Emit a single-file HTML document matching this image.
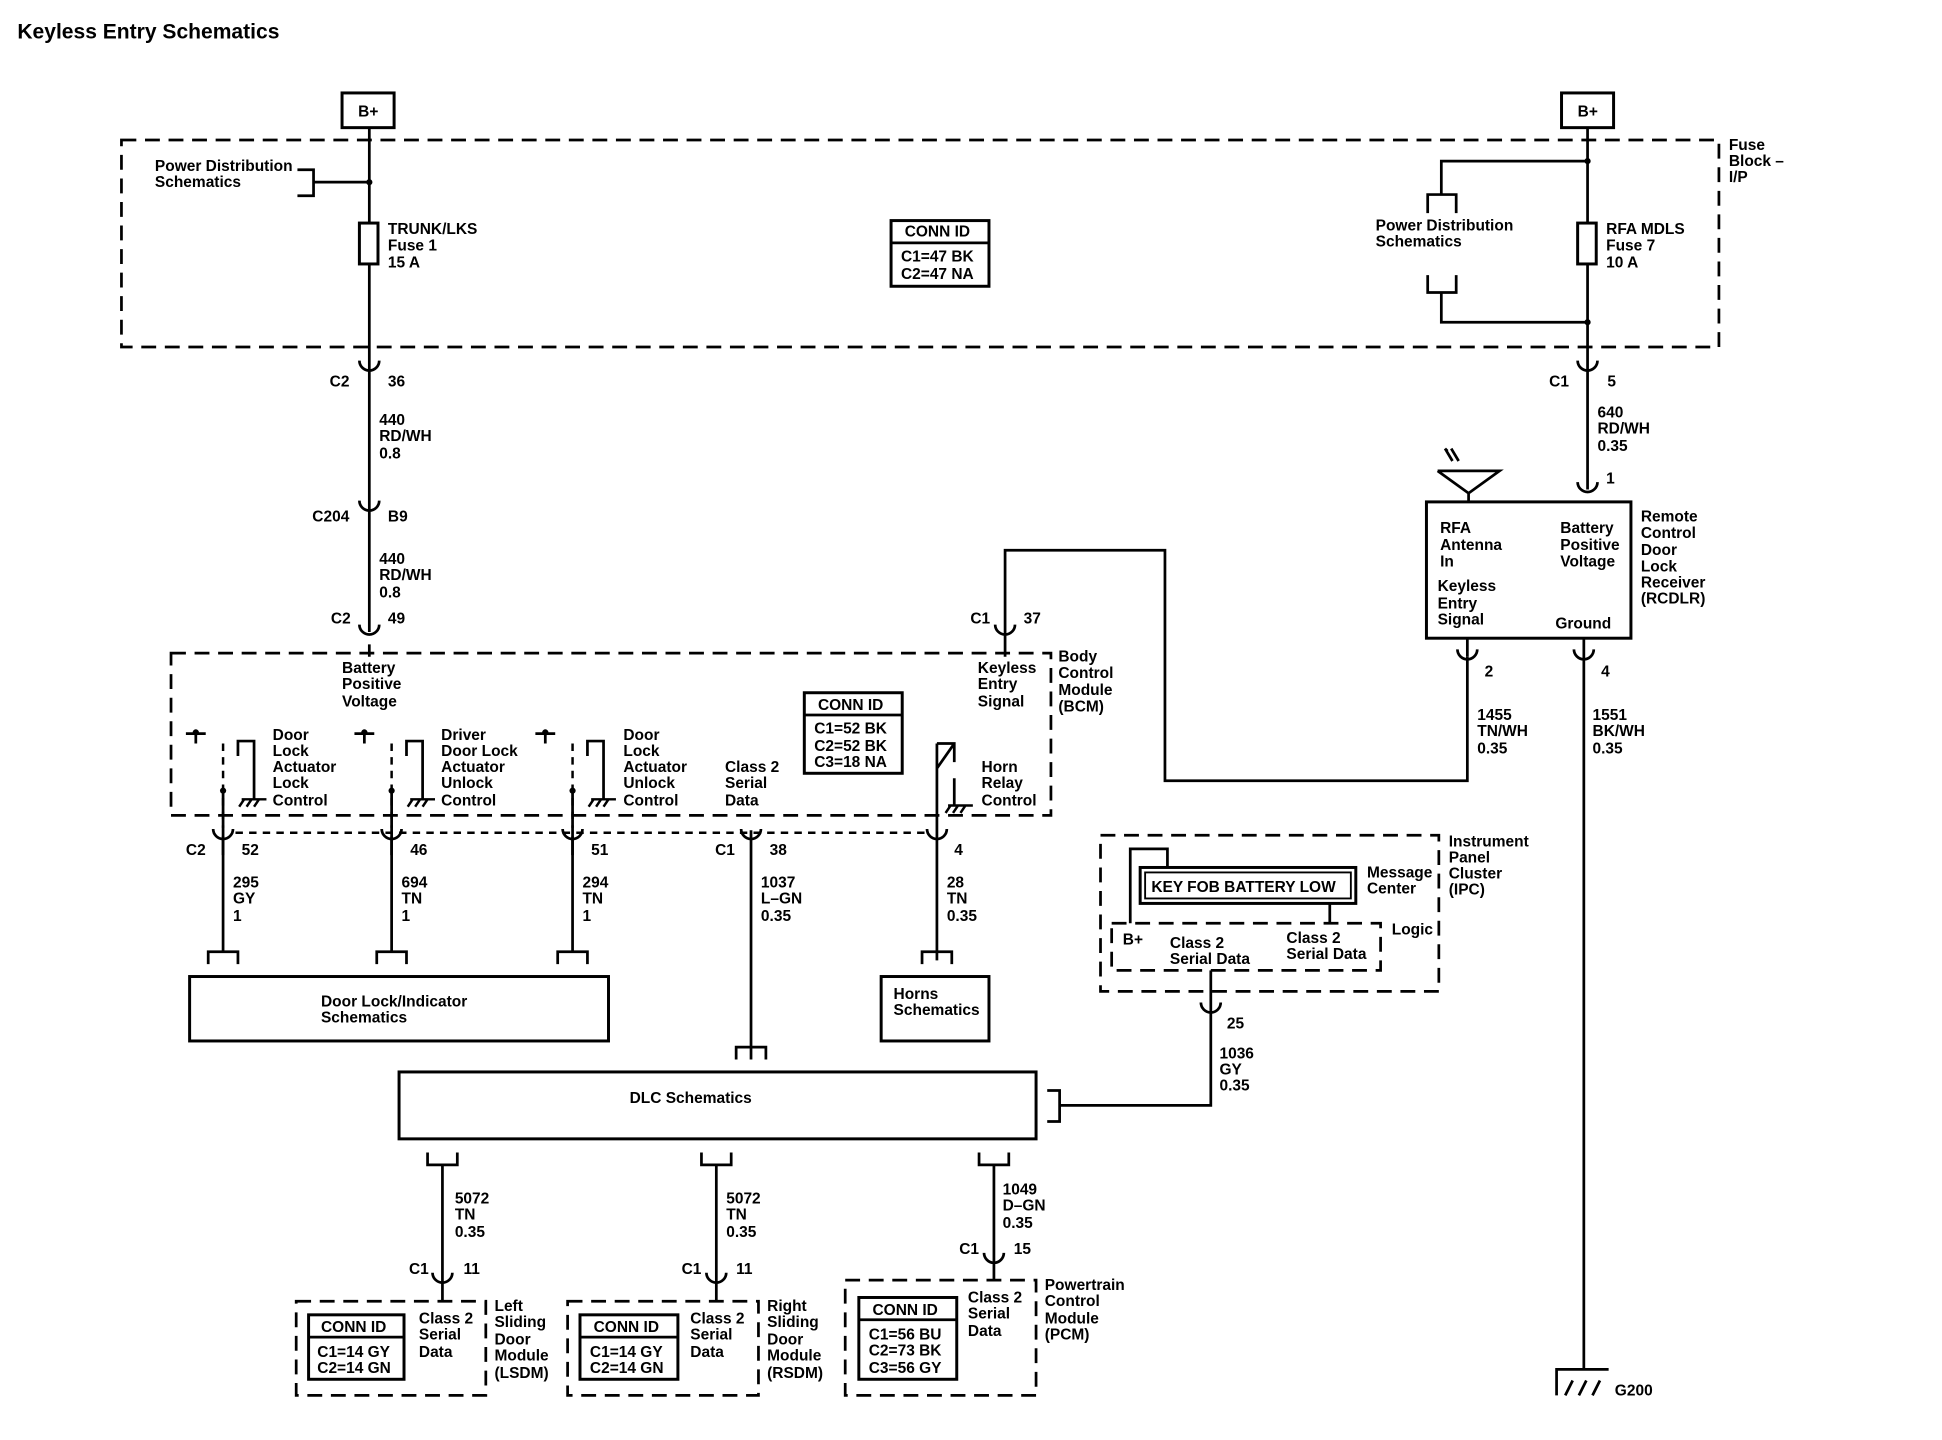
<!DOCTYPE html>
<html><head><meta charset="utf-8"><style>
html,body{margin:0;padding:0;background:#fff;width:1942px;height:1440px;overflow:hidden}
svg{display:block}
text{font-family:"Liberation Sans",Arial,sans-serif;font-size:12.5px;font-weight:bold;fill:#000}
.t{font-size:17px}
.w{stroke:#000;stroke-width:2.2;fill:none}
.d{stroke:#000;stroke-width:2.2;fill:none;stroke-dasharray:12,7}
.sd{stroke:#000;stroke-width:2;fill:none;stroke-dasharray:6,5}
.b{stroke:#000;stroke-width:2.4;fill:#fff}
</style></head><body>
<svg width="1942" height="1440" viewBox="0 0 1567 1162" preserveAspectRatio="none">
<defs>
<path id="cn" d="M-8,-6 A8,8 0 0,0 8,-6" stroke="#000" stroke-width="2.2" fill="none"/>
<path id="br" d="M-12,10 L-12,0 L12,0 L12,10" stroke="#000" stroke-width="2.2" fill="none"/>
<g id="gnd"><path d="M-10,0 L10,0 M-8,0 l-4,6 M-2,0 l-4,6 M4,0 l-4,6" stroke="#000" stroke-width="2" fill="none"/></g>
</defs>
<text x="14" y="31" class="t">Keyless Entry Schematics</text>

<rect x="276" y="75" width="42" height="28" class="b" stroke-width="3"/><text x="289" y="94">B+</text>
<rect x="1260" y="75" width="42" height="28" class="b" stroke-width="3"/><text x="1273" y="94">B+</text>

<rect x="98" y="113" width="1289" height="167" class="d"/>
<path class="w" d="M298,103 V510 M298,520 V530"/>
<rect x="290" y="180" width="15" height="33" class="b"/>
<circle cx="298" cy="147" r="2.5"/>
<path class="w" d="M240,137 H253 V158 H240 M253,147 H298"/>
<text x="125" y="138">Power Distribution</text><text x="125" y="151">Schematics</text>
<text x="313" y="189">TRUNK/LKS</text><text x="313" y="202">Fuse 1</text><text x="313" y="216">15 A</text>
<rect x="719" y="178" width="79" height="53" class="b"/><path class="w" d="M719,196 H798"/>
<text x="730" y="191">CONN ID</text><text x="727" y="211">C1=47 BK</text><text x="727" y="225">C2=47 NA</text>

<path class="w" d="M1281,103 V395"/>
<rect x="1273" y="180" width="15" height="33" class="b"/>
<circle cx="1281" cy="130" r="2.5"/><circle cx="1281" cy="260" r="2.5"/>
<path class="w" d="M1281,130 H1163 V157 M1152,172 V157 H1175 V172 M1152,222 V236 H1175 V222 M1163,236 V260 H1281"/>
<text x="1110" y="186">Power Distribution</text><text x="1110" y="199">Schematics</text>
<text x="1296" y="189">RFA MDLS</text><text x="1296" y="202">Fuse 7</text><text x="1296" y="216">10 A</text>
<text x="1395" y="121">Fuse</text><text x="1395" y="134">Block –</text><text x="1395" y="147">I/P</text>

<use href="#cn" x="298" y="297"/><use href="#cn" x="298" y="410"/><use href="#cn" x="298" y="510"/>
<text x="266" y="312">C2</text><text x="313" y="312">36</text>
<text x="306" y="343">440</text><text x="306" y="356">RD/WH</text><text x="306" y="370">0.8</text>
<text x="252" y="421">C204</text><text x="313" y="421">B9</text>
<text x="306" y="455">440</text><text x="306" y="468">RD/WH</text><text x="306" y="482">0.8</text>
<text x="267" y="503">C2</text><text x="313" y="503">49</text>

<rect x="138" y="527" width="710" height="131" class="d"/>
<text x="276" y="543">Battery</text><text x="276" y="556">Positive</text><text x="276" y="570">Voltage</text>
<text x="854" y="534">Body</text><text x="854" y="547">Control</text><text x="854" y="561">Module</text><text x="854" y="574">(BCM)</text>
<g id="sw">
<path class="w" d="M150,592 H166 M158,592 V600 M192,610 V598 H205 V645"/>
<circle cx="158" cy="591" r="2.5"/>
<path class="sd" d="M180,600 V668"/>
<path class="w" d="M180,638 V690"/>
<circle cx="180" cy="638" r="2.5"/>
<use href="#gnd" x="205" y="645"/>
<use href="#cn" x="180" y="675"/>
<path class="w" d="M180,675 V768"/>
<use href="#br" x="180" y="768"/>
</g>
<use href="#sw" x="136"/><use href="#sw" x="282"/>
<text x="220" y="597">Door</text><text x="220" y="610">Lock</text><text x="220" y="623">Actuator</text><text x="220" y="636">Lock</text><text x="220" y="650">Control</text>
<text x="356" y="597">Driver</text><text x="356" y="610">Door Lock</text><text x="356" y="623">Actuator</text><text x="356" y="636">Unlock</text><text x="356" y="650">Control</text>
<text x="503" y="597">Door</text><text x="503" y="610">Lock</text><text x="503" y="623">Actuator</text><text x="503" y="636">Unlock</text><text x="503" y="650">Control</text>
<rect x="649" y="559" width="79" height="65" class="b"/><path class="w" d="M649,577 H728"/>
<text x="660" y="573">CONN ID</text><text x="657" y="592">C1=52 BK</text><text x="657" y="606">C2=52 BK</text><text x="657" y="619">C3=18 NA</text>
<text x="585" y="623">Class 2</text><text x="585" y="636">Serial</text><text x="585" y="650">Data</text>
<path class="w" d="M606,670 V855"/><use href="#br" x="606" y="845"/>
<use href="#cn" x="606" y="675"/>
<path class="w" d="M756,600 V775 M756,600 H770 V615 M770,628 V650 M756,620 L770,600"/>
<use href="#gnd" x="775" y="650"/>
<use href="#cn" x="756" y="675"/><use href="#br" x="756" y="768"/>
<text x="792" y="623">Horn</text><text x="792" y="636">Relay</text><text x="792" y="650">Control</text>
<path class="sd" d="M190,672 H750"/>
<text x="789" y="543">Keyless</text><text x="789" y="556">Entry</text><text x="789" y="570">Signal</text>
<path class="w" d="M811,530 V444 H940 V630 H1184 V530"/>
<use href="#cn" x="811" y="510"/>
<text x="783" y="503">C1</text><text x="826" y="503">37</text>

<text x="150" y="690">C2</text><text x="195" y="690">52</text><text x="331" y="690">46</text><text x="477" y="690">51</text>
<text x="577" y="690">C1</text><text x="621" y="690">38</text><text x="770" y="690">4</text>
<text x="188" y="716">295</text><text x="188" y="729">GY</text><text x="188" y="743">1</text>
<text x="324" y="716">694</text><text x="324" y="729">TN</text><text x="324" y="743">1</text>
<text x="470" y="716">294</text><text x="470" y="729">TN</text><text x="470" y="743">1</text>
<text x="614" y="716">1037</text><text x="614" y="729">L–GN</text><text x="614" y="743">0.35</text>
<text x="764" y="716">28</text><text x="764" y="729">TN</text><text x="764" y="743">0.35</text>

<rect x="153" y="788" width="338" height="52" class="b"/>
<text x="259" y="812">Door Lock/Indicator</text><text x="259" y="825">Schematics</text>
<rect x="711" y="788" width="87" height="52" class="b"/>
<text x="721" y="806">Horns</text><text x="721" y="819">Schematics</text>
<rect x="322" y="865" width="514" height="54" class="b"/>
<text x="508" y="890">DLC Schematics</text>
<path class="w" d="M845,880 H855 V905 H845 M855,892 H977 V815"/>

<rect x="888" y="674" width="273" height="126" class="d"/>
<rect x="897" y="745" width="217" height="38" class="d"/>
<path class="w" d="M912,745 V685 H942 V700"/>
<rect x="920" y="700" width="174" height="29" class="b"/><rect x="924" y="704" width="166" height="21" fill="none" stroke="#000" stroke-width="1.5"/>
<text x="929" y="720">KEY FOB BATTERY LOW</text>
<path class="w" d="M1073,729 V745 M977,783 V815"/>
<text x="1103" y="708">Message</text><text x="1103" y="721">Center</text>
<text x="1123" y="754">Logic</text>
<text x="906" y="762">B+</text>
<text x="944" y="765">Class 2</text><text x="944" y="778">Serial Data</text>
<text x="1038" y="761">Class 2</text><text x="1038" y="774">Serial Data</text>
<text x="1169" y="683">Instrument</text><text x="1169" y="696">Panel</text><text x="1169" y="709">Cluster</text><text x="1169" y="722">(IPC)</text>
<use href="#cn" x="977" y="815"/>
<text x="990" y="830">25</text>
<text x="984" y="854">1036</text><text x="984" y="867">GY</text><text x="984" y="880">0.35</text>

<g transform="translate(357,940) scale(1,-1)"><use href="#br"/></g>
<g transform="translate(578,940) scale(1,-1)"><use href="#br"/></g>
<g transform="translate(802,940) scale(1,-1)"><use href="#br"/></g>
<path class="w" d="M357,940 V1050 M578,940 V1050 M802,940 V1033"/>
<use href="#cn" x="357" y="1033"/><use href="#cn" x="578" y="1033"/><use href="#cn" x="802" y="1017"/>
<text x="367" y="971">5072</text><text x="367" y="984">TN</text><text x="367" y="998">0.35</text>
<text x="586" y="971">5072</text><text x="586" y="984">TN</text><text x="586" y="998">0.35</text>
<text x="809" y="964">1049</text><text x="809" y="977">D–GN</text><text x="809" y="991">0.35</text>
<text x="330" y="1028">C1</text><text x="374" y="1028">11</text>
<text x="550" y="1028">C1</text><text x="594" y="1028">11</text>
<text x="774" y="1012">C1</text><text x="818" y="1012">15</text>

<rect x="239" y="1050" width="153" height="76" class="d"/>
<rect x="249" y="1061" width="77" height="52" class="b"/><path class="w" d="M249,1079 H326"/>
<text x="259" y="1075">CONN ID</text><text x="256" y="1095">C1=14 GY</text><text x="256" y="1108">C2=14 GN</text>
<text x="338" y="1068">Class 2</text><text x="338" y="1081">Serial</text><text x="338" y="1095">Data</text>
<text x="399" y="1058">Left</text><text x="399" y="1071">Sliding</text><text x="399" y="1085">Door</text><text x="399" y="1098">Module</text><text x="399" y="1112">(LSDM)</text>

<rect x="458" y="1050" width="154" height="76" class="d"/>
<rect x="468" y="1061" width="79" height="52" class="b"/><path class="w" d="M468,1079 H547"/>
<text x="479" y="1075">CONN ID</text><text x="476" y="1095">C1=14 GY</text><text x="476" y="1108">C2=14 GN</text>
<text x="557" y="1068">Class 2</text><text x="557" y="1081">Serial</text><text x="557" y="1095">Data</text>
<text x="619" y="1058">Right</text><text x="619" y="1071">Sliding</text><text x="619" y="1085">Door</text><text x="619" y="1098">Module</text><text x="619" y="1112">(RSDM)</text>

<rect x="682" y="1033" width="154" height="93" class="d"/>
<rect x="693" y="1047" width="79" height="66" class="b"/><path class="w" d="M693,1065 H772"/>
<text x="704" y="1061">CONN ID</text><text x="701" y="1081">C1=56 BU</text><text x="701" y="1094">C2=73 BK</text><text x="701" y="1108">C3=56 GY</text>
<text x="781" y="1051">Class 2</text><text x="781" y="1064">Serial</text><text x="781" y="1078">Data</text>
<text x="843" y="1041">Powertrain</text><text x="843" y="1054">Control</text><text x="843" y="1068">Module</text><text x="843" y="1081">(PCM)</text>

<use href="#cn" x="1281" y="297"/>
<text x="1250" y="312">C1</text><text x="1297" y="312">5</text>
<text x="1289" y="337">640</text><text x="1289" y="350">RD/WH</text><text x="1289" y="364">0.35</text>
<use href="#cn" x="1281" y="395"/><text x="1296" y="390">1</text>
<rect x="1151" y="405" width="165" height="110" class="b"/>
<path class="w" d="M1160,380 H1210 L1185,398 L1160,380 M1185,398 V405"/>
<path class="w" d="M1172,372 L1166,362 M1168,364 L1166,362 M1177,372 L1171,362" stroke-width="1.6"/>
<text x="1162" y="430">RFA</text><text x="1162" y="444">Antenna</text><text x="1162" y="457">In</text>
<text x="1259" y="430">Battery</text><text x="1259" y="444">Positive</text><text x="1259" y="457">Voltage</text>
<text x="1160" y="477">Keyless</text><text x="1160" y="491">Entry</text><text x="1160" y="504">Signal</text>
<text x="1255" y="507">Ground</text>
<text x="1324" y="421">Remote</text><text x="1324" y="434">Control</text><text x="1324" y="448">Door</text><text x="1324" y="461">Lock</text><text x="1324" y="474">Receiver</text><text x="1324" y="487">(RCDLR)</text>
<path class="w" d="M1184,515 V530 M1278,515 V1105"/>
<use href="#cn" x="1184" y="530"/><use href="#cn" x="1278" y="530"/>
<text x="1198" y="546">2</text><text x="1292" y="546">4</text>
<text x="1192" y="581">1455</text><text x="1192" y="594">TN/WH</text><text x="1192" y="608">0.35</text>
<text x="1285" y="581">1551</text><text x="1285" y="594">BK/WH</text><text x="1285" y="608">0.35</text>
<path class="w" d="M1256,1126 V1105 H1298 M1263,1126 l6,-12 M1274,1126 l6,-12 M1285,1126 l6,-12"/>
<text x="1303" y="1126">G200</text>
</svg>
</body></html>
